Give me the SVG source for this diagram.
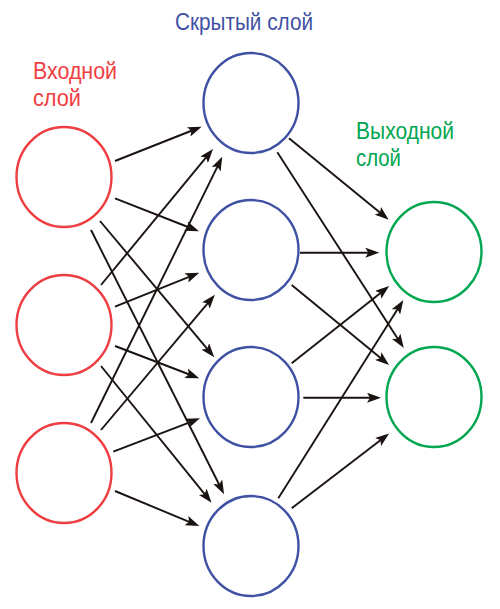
<svg xmlns="http://www.w3.org/2000/svg" width="500" height="609" viewBox="0 0 500 609">
<defs>
<marker id="ah" viewBox="0 0 14 10" markerWidth="14" markerHeight="10" markerUnits="userSpaceOnUse" refX="5" refY="5" orient="auto">
<path d="M0,0 L14,5 L0,10 L3,5 Z" fill="#1a1311"/>
</marker>
<style>
.in{fill:none;stroke:#ef3e42;stroke-width:2.4}
.hid{fill:none;stroke:#3f51a3;stroke-width:2.4}
.out{fill:none;stroke:#00a650;stroke-width:2.4}
.lbl{font-family:"Liberation Sans","Noto Sans",sans-serif;font-size:23px}
#edges line{stroke:#1a1311;stroke-width:1.9;marker-end:url(#ah)}
</style>
</defs>
<rect width="500" height="609" fill="#fff"/>
<g id="labels">
<text class="lbl" x="175" y="30" fill="#3f51a3" textLength="138" lengthAdjust="spacingAndGlyphs">Скрытый слой</text>
<text class="lbl" x="33" y="79" fill="#ef3e42" textLength="84" lengthAdjust="spacingAndGlyphs">Входной</text>
<text class="lbl" x="33" y="106" fill="#ef3e42" textLength="48" lengthAdjust="spacingAndGlyphs">слой</text>
<text class="lbl" x="356" y="139" fill="#00a650" textLength="98" lengthAdjust="spacingAndGlyphs">Выходной</text>
<text class="lbl" x="356" y="166" fill="#00a650" textLength="45" lengthAdjust="spacingAndGlyphs">слой</text>
</g>
<g id="input1"><ellipse class="in" cx="64" cy="177" rx="47.5" ry="50"/></g>
<g id="input2"><ellipse class="in" cx="64" cy="325" rx="47.5" ry="50"/></g>
<g id="input3"><ellipse class="in" cx="64" cy="473" rx="47.5" ry="50"/></g>
<g id="hidden1"><ellipse class="hid" cx="251" cy="103" rx="47.5" ry="50"/></g>
<g id="hidden2"><ellipse class="hid" cx="251" cy="250" rx="47.5" ry="50"/></g>
<g id="hidden3"><ellipse class="hid" cx="251" cy="397" rx="47.5" ry="50"/></g>
<g id="hidden4"><ellipse class="hid" cx="251" cy="546" rx="47.5" ry="50"/></g>
<g id="output1"><ellipse class="out" cx="434" cy="252" rx="47.5" ry="50"/></g>
<g id="output2"><ellipse class="out" cx="434" cy="397" rx="47.5" ry="50"/></g>
<g id="edges">
<line x1="115" y1="161" x2="193.3" y2="130"/>
<line x1="115" y1="198.3" x2="190.6" y2="228"/>
<line x1="100" y1="221" x2="208.5" y2="350.3"/>
<line x1="91" y1="230" x2="220" y2="486.2"/>
<line x1="101" y1="285" x2="207.3" y2="155.9"/>
<line x1="115" y1="306.7" x2="191" y2="276.1"/>
<line x1="115" y1="346" x2="190.8" y2="375"/>
<line x1="101" y1="366" x2="205.9" y2="495.7"/>
<line x1="91" y1="423" x2="218.3" y2="164.8"/>
<line x1="101" y1="430" x2="209.1" y2="301.6"/>
<line x1="113.3" y1="451.7" x2="191.6" y2="421.6"/>
<line x1="115" y1="491" x2="191" y2="522.6"/>
<line x1="289" y1="138.3" x2="381.7" y2="214"/>
<line x1="277.3" y1="152.3" x2="398.9" y2="340.5"/>
<line x1="300" y1="252.7" x2="370.3" y2="252.7"/>
<line x1="291.7" y1="285" x2="382.1" y2="359.3"/>
<line x1="291.7" y1="363.3" x2="382.1" y2="291.7"/>
<line x1="303.3" y1="397.7" x2="372" y2="397.7"/>
<line x1="278.3" y1="498.3" x2="398.6" y2="307.6"/>
<line x1="291.7" y1="508.3" x2="382" y2="438.9"/>
</g>
</svg>
